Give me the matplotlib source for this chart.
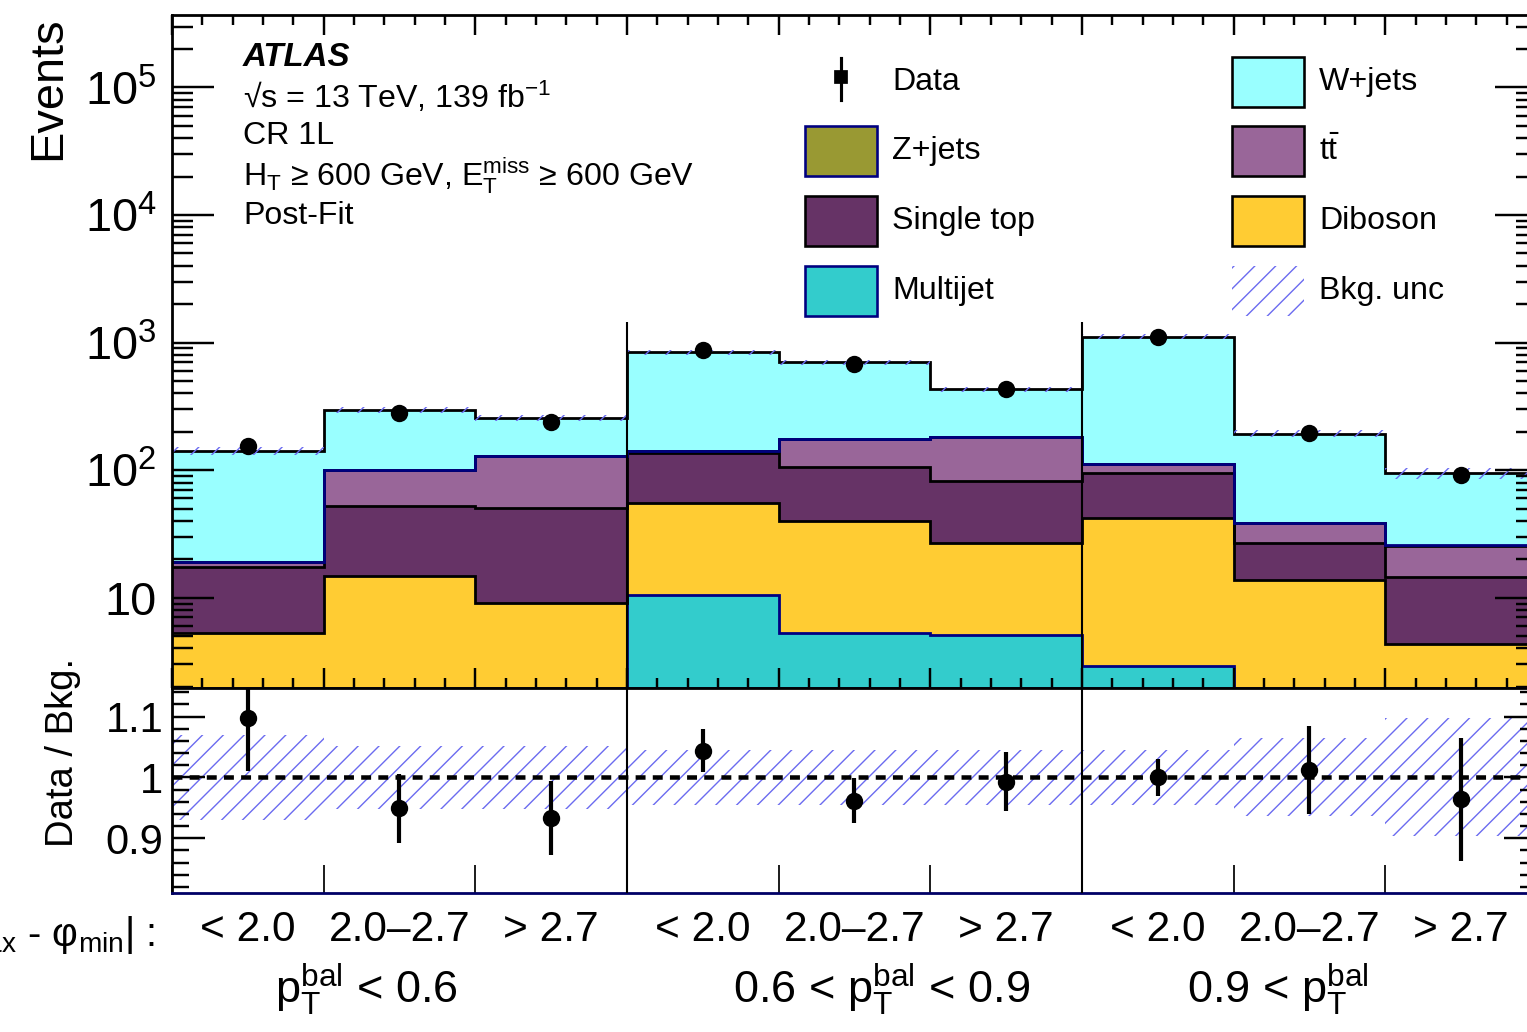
import numpy as np
import matplotlib as mpl
mpl.use('Agg')
import matplotlib.pyplot as plt
from matplotlib import font_manager
from matplotlib.patches import Rectangle
from matplotlib.lines import Line2D
from matplotlib.ticker import FixedLocator, MultipleLocator, LogLocator, NullFormatter, FixedFormatter

# ---- data (9 bins: 3 |dphi| bins in each of 3 p_T^bal regions) ----
bin_labels = ['< 2.0', '2.0\u20132.7', '> 2.7'] * 3
group_labels = ['p$_{\\mathrm{T}}^{\\mathrm{bal}}$ < 0.6',
                '0.6 < p$_{\\mathrm{T}}^{\\mathrm{bal}}$ < 0.9',
                '0.9 < p$_{\\mathrm{T}}^{\\mathrm{bal}}$']
group_label_x = [1.28, 4.68, 7.29]

multijet = [0.5, 0.6, 0.5, 10.5, 5.3, 5.1, 2.9, 0.4, 0.3]
diboson = [4.8, 14.2, 8.6, 44.4, 34.6, 21.9, 39.0, 13.4, 4.0]
single_top = [12.1, 37.6, 41.1, 80.6, 65.1, 55.6, 52.5, 13.2, 10.3]
ttbar = [1.5, 48.3, 79.5, 6.2, 71.7, 98.1, 17.3, 11.5, 11.0]
zjets = [0.2, 0.3, 0.3, 0.3, 0.3, 0.3, 0.3, 0.2, 0.2]
wjets = [123, 195, 126, 701, 526, 251, 997, 155, 68.6]

data = [156, 281, 239, 880, 676, 429, 1109, 196, 91]
data_err = [12.5, 16.8, 15.5, 29.7, 26.0, 20.7, 33.3, 14.0, 9.5]
bkg_unc = [0.07, 0.052, 0.052, 0.045, 0.045, 0.045, 0.045, 0.064, 0.097]

sep_top = 1450

# stack from bottom to top
stack = [
    ('Multijet', multijet, '#33cccc', '#000080'),
    ('Diboson', diboson, '#ffcc33', 'black'),
    ('Single top', single_top, '#663366', 'black'),
    (r'$\mathrm{t\bar{t}}$', ttbar, '#996699', 'black'),
    ('Z+jets', zjets, '#999933', '#000080'),
    ('W+jets', wjets, '#99ffff', 'black'),
]
hatch_col = '#6b6bf0'

# ---- style ----
plt.rcParams['font.family'] = ['Liberation Sans', 'DejaVu Sans']
plt.rcParams['mathtext.fontset'] = 'custom'
plt.rcParams['mathtext.rm'] = 'Liberation Sans'
plt.rcParams['mathtext.it'] = 'Liberation Sans:italic'
plt.rcParams['mathtext.bf'] = 'Liberation Sans:bold'
plt.rcParams['hatch.linewidth'] = 0.8
try:
    font_manager.findfont('Liberation Sans Narrow', fallback_to_default=False)
    narrow = 'Liberation Sans Narrow'
except ValueError:
    narrow = 'Liberation Sans'

W, H, DPI = 1527, 1032, 125
fig = plt.figure(figsize=(W / DPI, H / DPI), dpi=DPI)


def fx(x):
    return x / W


def fy(y):
    return 1 - y / H


ax = fig.add_axes([fx(172), fy(688), fx(1365), 673 / H])
rax = fig.add_axes([fx(172), fy(893), fx(1365), 205 / H])

nb = len(data)
edges = np.arange(nb + 1)
centers = edges[:-1] + 0.5

# ---- stacked backgrounds ----
bottom = np.full(nb, 1e-3)
tops = []
for name, vals, fc, ec in stack:
    top = bottom + np.array(vals)
    ax.stairs(top, edges, baseline=bottom, fill=True, facecolor=fc, edgecolor='none', lw=0)
    tops.append((top, ec))
    bottom = top
total = bottom
for top, ec in tops:
    ax.stairs(top, edges, baseline=None, color=ec, lw=1.6)

unc = np.array(bkg_unc)
ax.stairs(total * (1 + unc), edges, baseline=total * (1 - unc), fill=True,
          facecolor='none', edgecolor=hatch_col, hatch='//', lw=0)

ax.errorbar(centers, data, yerr=data_err, fmt='o', color='black', ms=9, lw=2, zorder=5)
ax.vlines([3, 6], 1e-3, sep_top, color='black', lw=1.2, zorder=4)

ax.set_yscale('log')
ax.set_xlim(0, nb)
ax.set_ylim(1.96, 3.7e5)
ax.yaxis.set_major_locator(FixedLocator([10, 1e2, 1e3, 1e4, 1e5]))
ax.yaxis.set_major_formatter(FixedFormatter(['10', '$10^{2}$', '$10^{3}$', '$10^{4}$', '$10^{5}$']))
ax.yaxis.set_minor_locator(LogLocator(base=10, subs=np.arange(2, 10), numticks=20))
ax.yaxis.set_minor_formatter(NullFormatter())
ax.xaxis.set_major_locator(MultipleLocator(1))
ax.xaxis.set_minor_locator(MultipleLocator(0.2))
ax.tick_params(axis='y', which='major', direction='in', length=24, width=1.4,
               left=True, right=True, labelsize=27, pad=9)
ax.tick_params(axis='y', which='minor', direction='in', length=12, width=1.4, left=True, right=True)
ax.tick_params(axis='x', which='major', direction='in', length=11.5, width=1.4,
               top=True, bottom=True, labelbottom=False)
ax.tick_params(axis='x', which='minor', direction='in', length=5.8, width=1.4, top=True, bottom=True)
for s in ax.spines.values():
    s.set_linewidth(1.6)
ax.spines['bottom'].set_color('#000066')

# ---- ratio ----
ratio = np.array(data) / total
ratio_err = np.array(data_err) / total
rax.stairs(1 + unc, edges, baseline=1 - unc, fill=True,
           facecolor='none', edgecolor=hatch_col, hatch='//', lw=0)
rax.axhline(1, color='black', ls=(0, (2.2, 1.6)), lw=2.6, zorder=3)
rax.errorbar(centers, ratio, yerr=ratio_err, fmt='o', color='black', ms=9, lw=2.4, zorder=5)
rax.vlines([3, 6], 0, 2, color='black', lw=1.2, zorder=4)
rax.set_xlim(0, nb)
rax.set_ylim(0.81, 1.147)
rax.yaxis.set_major_locator(FixedLocator([0.9, 1.0, 1.1]))
rax.yaxis.set_major_formatter(FixedFormatter(['0.9', '1', '1.1']))
rax.yaxis.set_minor_locator(MultipleLocator(0.02))
rax.xaxis.set_major_locator(MultipleLocator(1))
rax.tick_params(axis='y', which='major', direction='in', length=19, width=1.4,
                left=True, right=True, labelsize=24, pad=5, labelfontfamily=narrow)
rax.tick_params(axis='y', which='minor', direction='in', length=10, width=1.4, left=True, right=True)
rax.tick_params(axis='x', which='major', direction='in', length=16, width=1.0,
                top=False, bottom=True, labelbottom=False)
for s in rax.spines.values():
    s.set_linewidth(1.6)
rax.spines['bottom'].set_color('#000066')

# bin and group labels
for c, lab in zip(centers, bin_labels):
    rax.text(c, -0.18, lab, transform=rax.get_xaxis_transform(), ha='center', va='center',
             fontsize=24.5, family=narrow)
for gx, lab in zip(group_label_x, group_labels):
    rax.text(gx, -0.47, lab, transform=rax.get_xaxis_transform(), ha='center', va='center',
             fontsize=26, family=narrow)
fig.text(fx(155), fy(935), '|\u03c6$_{\\mathrm{max}}$ - \u03c6$_{\\mathrm{min}}$| :',
         ha='right', va='center', fontsize=23, family=narrow)

# axis titles
fig.text(fx(48), fy(88), 'Events', rotation=90, ha='center', va='center', fontsize=27)
fig.text(fx(63), fy(752), 'Data / Bkg.', rotation=90, ha='center', va='center', fontsize=22)

# ---- ATLAS label block ----
fig.text(fx(243), fy(58), 'ATLAS', fontsize=19, fontweight='bold', fontstyle='italic', va='center')
info = ['\u221as = 13 TeV, 139 fb$^{-1}$',
        'CR 1L',
        'H$_{\\mathrm{T}}$ \u2265 600 GeV, E$_{\\mathrm{T}}^{\\mathrm{miss}}$ \u2265 600 GeV',
        'Post-Fit']
for i, line in enumerate(info):
    fig.text(fx(243), fy(97 + 39.5 * i), line, fontsize=18.5, va='center')

# ---- legend (hand placed, ROOT style) ----
leg_rows = [82, 151, 221, 291]
left_entries = [None, stack[4], stack[2], stack[0]]
right_entries = [stack[5], stack[3], stack[1], 'unc']

# data entry
fig.add_artist(Line2D([fx(841), fx(841)], [fy(58), fy(100)], color='black', lw=1.8))
fig.add_artist(Line2D([fx(841)], [fy(77)], marker='s', ms=7, color='black'))
fig.text(fx(892), fy(leg_rows[0]), 'Data', fontsize=18.5, va='center')

for (x0, entries) in [(805, left_entries), (1232, right_entries)]:
    for y, ent in zip(leg_rows, entries):
        if ent is None:
            continue
        if ent == 'unc':
            fig.add_artist(Rectangle((fx(x0), fy(y + 25)), fx(72), 50 / H, transform=fig.transFigure,
                                     facecolor='none', edgecolor=hatch_col, hatch='//', lw=0))
            fig.text(fx(x0 + 87), fy(y), 'Bkg. unc', fontsize=18.5, va='center')
            continue
        name, vals, fc, ec = ent
        fig.add_artist(Rectangle((fx(x0), fy(y + 25)), fx(72), 50 / H, transform=fig.transFigure,
                                 facecolor=fc, edgecolor=ec, lw=1.5))
        fig.text(fx(x0 + 87), fy(y), name, fontsize=18.5, va='center')

fig.savefig('out.png', dpi=DPI)
